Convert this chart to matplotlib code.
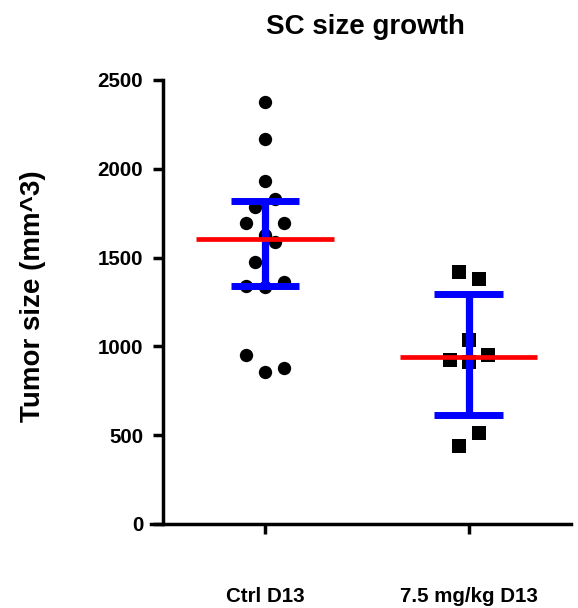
"""
Tumor size at day 13 for subcutaneous (SC) control and 7.5 mg/kg groups
"""

#---------------------------------------------------------------------------------------------------
# Import Modules
#---------------------------------------------------------------------------------------------------

import numpy as np
import matplotlib
matplotlib.use('Agg')
import matplotlib.pyplot as plt


#---------------------------------------------------------------------------------------------------
# Input Parameters
#---------------------------------------------------------------------------------------------------

groups = ['Ctrl D13', '7.5 mg/kg D13']

# Tumor sizes (mm^3)
ctrl_d13 = [2376, 2166, 1933, 1828, 1783, 1693, 1693, 1627, 1586, 1477, 1342, 1336, 1364,
            951, 858, 877]
treat_d13 = [1417, 1378, 1036, 953, 925, 910, 511, 441]

# Horizontal spread of the dots (in units of one dot step)
ctrl_slots = [0, 0, 0, 1, -1, -2, 2, 0, 1, -1, -2, 0, 2, -2, 0, 2]
treat_slots = [-1, 1, 0, 2, -2, 0, 1, -1]

yticks = [0, 500, 1000, 1500, 2000, 2500]

slot_w = 0.0475
median_hw = 0.336
cap_hw = 0.169

plot_fname = 'out.png'


#---------------------------------------------------------------------------------------------------
# Make Plot
#---------------------------------------------------------------------------------------------------

plt.rcParams['font.family'] = ['Liberation Sans', 'DejaVu Sans']
plt.rcParams['font.weight'] = 'bold'

fig = plt.figure(figsize=(5.78, 6.08), dpi=100)
ax = fig.add_axes([0.2612, 0.1382, 0.7266, 0.7303])

for i, (vals, slots, mk, ms) in enumerate(zip([ctrl_d13, treat_d13], [ctrl_slots, treat_slots],
                                              ['o', 's'], [9.6, 10.0])):
    vals = np.array(vals, dtype=float)
    xs = i + slot_w * np.array(slots)
    ax.plot(xs, vals, ls='none', marker=mk, ms=ms, mfc='k', mec='k', mew=0, zorder=2,
            clip_on=False)

    # Median with interquartile range ((n+1)p percentiles)
    q1, med, q3 = np.percentile(vals, [25, 50, 75], method='weibull')
    ax.vlines(i, q1, q3, colors='#0000ff', lw=5.2, zorder=3)
    ax.hlines([q1, q3], i - cap_hw, i + cap_hw, colors='#0000ff', lw=5, zorder=3)
    ax.hlines(med, i - median_hw, i + median_hw, colors='#ff0000', lw=3.4, zorder=4)

ax.set_xlim(-0.559, 1.5)
ax.set_ylim(0, 2500)
ax.set_xticks([0, 1])
ax.set_xticklabels(groups)
ax.set_yticks(yticks)
ax.set_yticklabels([str(t) for t in yticks])

for s in ['top', 'right']:
    ax.spines[s].set_visible(False)
ax.spines['left'].set_position(('data', -0.5))
for s in ['left', 'bottom']:
    ax.spines[s].set_linewidth(2.5)
    ax.spines[s].set_capstyle('projecting')

ax.tick_params(axis='both', direction='out', length=7.2, width=2.5, labelsize=14.8)
ax.tick_params(axis='y', pad=7)
ax.tick_params(axis='x', pad=38)
for lbl in ax.get_xticklabels() + ax.get_yticklabels():
    lbl.set_fontweight('bold')

fig.text(365 / 578, 1 - 33.5 / 608, 'SC size growth', ha='center', va='baseline',
         size=20, weight='bold')
fig.text(40 / 578, 1 - 296 / 608, 'Tumor size (mm^3)', rotation=90, rotation_mode='anchor',
         ha='center', va='baseline', size=20, weight='bold')

plt.savefig(plot_fname, dpi=100)
plt.close(fig)
